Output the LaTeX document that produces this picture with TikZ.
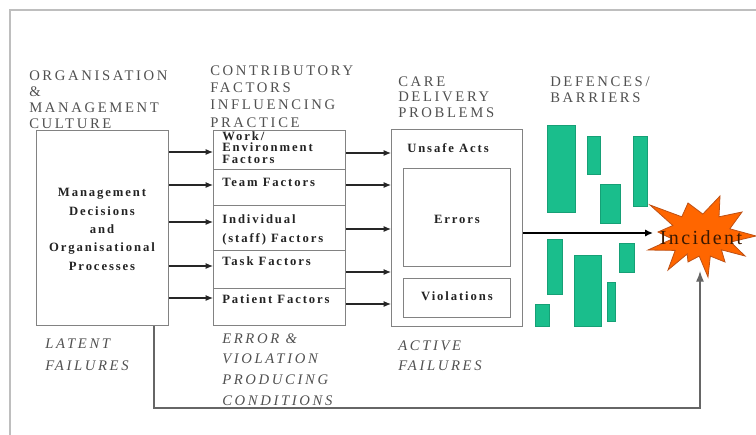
\documentclass[tikz,border=0pt]{standalone}
\usepackage{fontspec}
\setmainfont{Liberation Serif}
\newfontfamily\headfont[LetterSpace=18]{Liberation Serif}
\newfontfamily\bodyfont[LetterSpace=15]{Liberation Serif}
\newfontfamily\starfont[LetterSpace=12]{Liberation Serif}
\usetikzlibrary{arrows.meta,calc}

\definecolor{framegray}{RGB}{190,190,190}
\definecolor{boxgray}{RGB}{130,130,130}
\definecolor{headgray}{RGB}{80,80,80}
\definecolor{textdark}{RGB}{35,35,35}
\definecolor{barfill}{RGB}{26,190,140}
\definecolor{barline}{RGB}{22,160,118}
\definecolor{starfill}{RGB}{255,102,0}
\definecolor{starline}{RGB}{190,80,20}
\definecolor{startext}{RGB}{60,25,0}

% multi-line text nodes are placed by the baseline of their last line
\tikzset{
  box/.style={draw=boxgray, line width=0.8pt, anchor=north west, inner sep=0pt},
  head/.style={anchor=base west, inner sep=0pt, align=left, text=headgray,
    font=\headfont\fontsize{11}{12}\selectfont},
  failure/.style={anchor=base west, inner sep=0pt, align=left, text=headgray,
    font=\headfont\itshape\fontsize{11}{15.5}\selectfont},
  btxt/.style={anchor=base west, inner sep=0pt, align=left, text=textdark,
    font=\bodyfont\bfseries\fontsize{9.5}{14.25}\selectfont},
  arr/.style={draw=black!85, line width=0.8pt, -{Latex[length=5.5pt,width=4.5pt]}},
  bigarr/.style={draw=black, line width=1.6pt, -{Latex[length=6pt,width=5.5pt]}},
  fb/.style={draw=black!60, line width=1pt, -{Latex[length=8pt,width=6pt]}},
  bar/.style={fill=barfill, draw=barline, line width=0.4pt},
}

\begin{document}
\begin{tikzpicture}[x=0.75pt,y=-0.75pt]
\useasboundingbox (0,0) rectangle (756,435);

% outer frame (only top and left edges fall inside the page)
\draw[framegray, line width=1.3pt] (10,435) -- (10,10) -- (756,10);

% column headings
\node[head] (orgtitle) at (29,128) {ORGANISATION\\\&\\MANAGEMENT\\CULTURE};
\node[head, font=\headfont\fontsize{11}{12.8}\selectfont] (contribtitle) at (210,127) {CONTRIBUTORY\\FACTORS\\INFLUENCING\\PRACTICE};
\node[head, font=\headfont\fontsize{11}{11.3}\selectfont] (caretitle) at (398,117) {CARE\\DELIVERY\\PROBLEMS};
\node[head] (deftitle) at (550,103) {DEFENCES/\\BARRIERS};

% organisation box
\node[box, minimum width=99pt, minimum height=146.25pt] (mgmt) at (36,130) {};
\node[btxt, anchor=base, align=center, font=\bodyfont\bfseries\fontsize{9.5}{13.7}\selectfont]
  (mgmttxt) at (102,270) {Management\\Decisions\\and\\Organisational\\Processes};

% contributory factor boxes
\node[box, minimum width=99pt, minimum height=29.25pt] (work) at (213,130) {};
\node[box, minimum width=99pt, minimum height=27pt] (team) at (213,169) {};
\node[box, minimum width=99pt, minimum height=33.75pt] (indiv) at (213,205) {};
\node[box, minimum width=99pt, minimum height=28.5pt] (task) at (213,250) {};
\node[box, minimum width=99pt, minimum height=27.75pt] (patient) at (213,288) {};

\node[btxt, font=\bodyfont\bfseries\fontsize{9.5}{8.6}\selectfont]
  (worktxt) at (222,163) {Work/\\Environment\\Factors};
\node[btxt] (teamtxt) at (222,186) {Team Factors};
\node[btxt] (indivtxt) at (222,242) {Individual\\(staff) Factors};
\node[btxt] (tasktxt) at (222,265) {Task Factors};
\node[btxt] (patienttxt) at (222,303) {Patient Factors};

% care delivery problems
\node[box, minimum width=98.25pt, minimum height=147.75pt] (care) at (391,129) {};
\node[box, minimum width=80.25pt, minimum height=73.5pt] (errors) at (403,168) {};
\node[box, minimum width=80.25pt, minimum height=29.25pt] (violations) at (403,278) {};
\node[btxt] (unsafetxt) at (407,152) {Unsafe Acts};
\node[btxt, anchor=base] (errorstxt) at (457,223) {Errors};
\node[btxt, anchor=base] (violtxt) at (457,300) {Violations};

% failure labels
\node[failure, font=\headfont\itshape\fontsize{11}{16.5}\selectfont] (latent) at (45,370) {LATENT\\FAILURES};
\node[failure] (conditions) at (222,405) {ERROR \&\\VIOLATION\\PRODUCING\\CONDITIONS};
\node[failure, font=\headfont\itshape\fontsize{11}{15}\selectfont] (active) at (398,370) {ACTIVE\\FAILURES};

% defences / barriers
\draw[bar] (547.7,125) rectangle (575,212);
\draw[bar] (587.3,136) rectangle (600.7,174);
\draw[bar] (600,184) rectangle (620.7,223);
\draw[bar] (633.3,136) rectangle (647.3,206.7);
\draw[bar] (547.7,239.3) rectangle (562.7,294.3);
\draw[bar] (574,255) rectangle (601,326.7);
\draw[bar] (607.3,282.3) rectangle (615,321.7);
\draw[bar] (619.3,243.3) rectangle (634.7,272.7);
\draw[bar] (535,304) rectangle (549,326.7);

% incident explosion
\filldraw[fill=starfill, draw=starline, line width=0.6pt]
  (650,205) -- (681.8,216.8) -- (688,203) -- (702.8,214.1) -- (720,196)
  -- (719,216.8) -- (742,212) -- (729.8,228.8) -- (756,236) -- (730.7,242)
  -- (745,256) -- (721.4,249.8) -- (725,262) -- (710.3,256.1) -- (708,277)
  -- (699.2,256.1) -- (688,262) -- (687.2,254) -- (668,270) -- (675.2,250.4)
  -- (648,250) -- (672.2,239) -- (658,232) -- (672.8,225.5) -- cycle;
\node[anchor=base, inner sep=0pt, text=startext, font=\starfont\fontsize{15}{15}\selectfont]
  (incident) at (701,244) {Incident};
\coordinate (starleft) at (653,233);
\coordinate (starbottom) at (700,271);

% connectors: organisation -> factors
\draw[arr] (mgmt.east |- 0,152) -- (work.west |- 0,152);
\draw[arr] (mgmt.east |- 0,185) -- (team.west |- 0,185);
\draw[arr] (mgmt.east |- 0,222) -- (indiv.west |- 0,222);
\draw[arr] (mgmt.east |- 0,266) -- (task.west |- 0,266);
\draw[arr] (mgmt.east |- 0,298) -- (patient.west |- 0,298);

% connectors: factors -> care delivery problems
\draw[arr] (work.east |- 0,153) -- (care.west |- 0,153);
\draw[arr] (team.east |- 0,185) -- (care.west |- 0,185);
\draw[arr] (indiv.east |- 0,229) -- (care.west |- 0,229);
\draw[arr] (task.east |- 0,272) -- (care.west |- 0,272);
\draw[arr] (patient.east |- 0,304) -- (care.west |- 0,304);

% active failures through the defences
\draw[bigarr] (care.east |- starleft) -- (starleft);

% latent failures route
\coordinate (fbcorner) at (700,408);
\draw[fb] (mgmt.south -| 154,0) |- (fbcorner) -- (starbottom);
\end{tikzpicture}
\end{document}
